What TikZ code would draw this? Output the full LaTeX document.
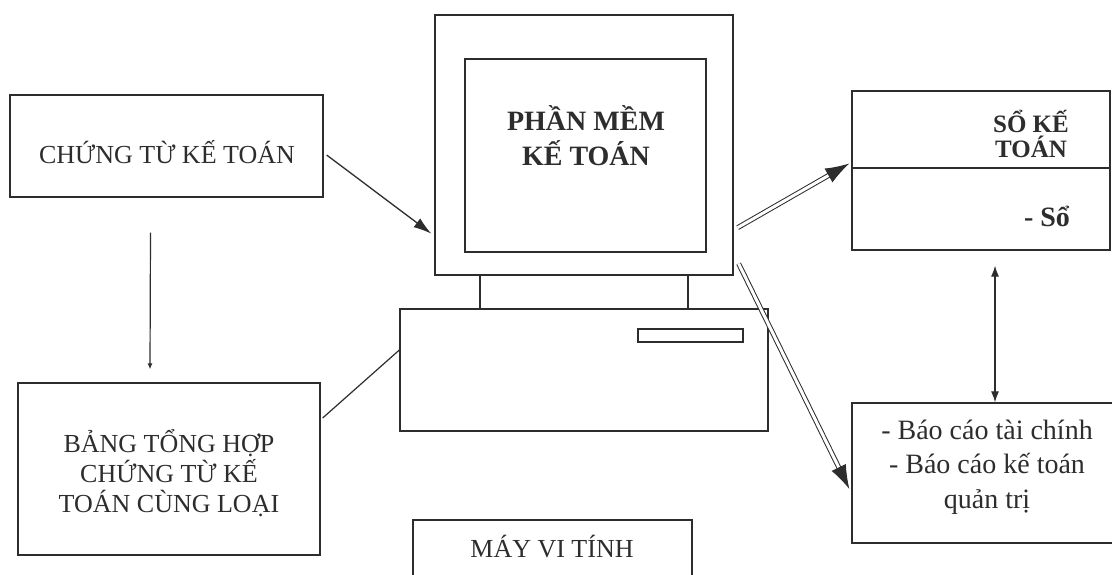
\documentclass[tikz,border=0pt]{standalone}
\usepackage{fontspec}
\setmainfont{Liberation Serif}
\usetikzlibrary{arrows.meta}
\definecolor{ink}{RGB}{45,45,45}

\begin{document}
\begin{tikzpicture}[x=1pt, y=-1pt,
		box/.style={draw=ink, line width=1.3pt, inner sep=0pt},
		txt/.style={text=ink, align=center, inner sep=0pt, font=\fontsize{26}{30}\selectfont},
		big/.style={text=ink, align=center, inner sep=0pt, font=\fontsize{28}{34.5}\selectfont},
		muiten/.style={draw=ink, line width=1.3pt, -{Latex[length=18pt, width=11pt]}},
		kep/.style={draw=ink, line width=1pt, double=white, double distance=3pt, -{Latex[length=24pt, width=16pt, color=ink, fill=ink]}}]
				\clip (0, 0) rectangle (1112, 575);
				\fill[white] (0, 0) rectangle (1112, 575);

				% 枠を描く
				\node[box, minimum width=313pt, minimum height=102pt] (ctu) at (166.5, 146) {};
				\node[box, minimum width=302pt, minimum height=172pt] (bang) at (169, 469) {};
				\node[box, minimum width=298pt, minimum height=260pt] (mon) at (584, 145) {};
				\node[box, minimum width=241pt, minimum height=193pt] (screen) at (585.5, 155.5) {};
				\node[box, minimum width=368pt, minimum height=122pt] (thung) at (584, 370) {};
				\node[box, minimum width=105pt, minimum height=13pt] (khe) at (690.5, 335.5) {};
				\node[box, minimum width=279pt, minimum height=90pt] (may) at (552.5, 565) {};
				\node[box, minimum width=258pt, minimum height=159pt] (so) at (981, 170.5) {};
				\node[box, minimum width=286pt, minimum height=140pt] (bc) at (995, 473) {};
				\coordinate (vach) at (852, 168);
				\draw[draw=ink, line width=1.3pt] (vach) -- (vach -| so.east);

				% 画面の足
				\draw[draw=ink, line width=1.3pt] (mon.south -| 480, 0) -- (thung.north -| 480, 0);
				\draw[draw=ink, line width=1.3pt] (mon.south -| 688, 0) -- (thung.north -| 688, 0);

				% 矢印
				\draw[muiten] ([xshift=3pt, yshift=-9pt]ctu.east) -- ([xshift=-3pt, yshift=42pt]mon.south west);
				\draw[draw=ink, line width=1.2pt, -{Latex[length=6pt, width=5pt]}] ([xshift=-16pt, yshift=-35pt]ctu.south) -- ([xshift=-19pt, yshift=13pt]bang.north);
				\draw[draw=ink, line width=1.2pt] ([xshift=2pt, yshift=51pt]bang.east) -- ([yshift=20pt]thung.west);
				\draw[kep] ([xshift=4pt, yshift=48pt]mon.south east) -- ([xshift=-2pt, yshift=7pt]so.west);
				\draw[kep] ([xshift=5pt, yshift=12pt]mon.south east) -- ([xshift=-2pt, yshift=-16pt]bc.west);
				\draw[draw=ink, line width=1.2pt, {Latex[length=11pt, width=8pt]}-{Latex[length=11pt, width=8pt]}] ([xshift=14pt, yshift=-15pt]so.south) -- (bc.north);

				% 文字を入れる
				\node[txt] (t1) at (167, 152) {CHỨNG TỪ KẾ TOÁN};
				\node[txt] (t2) at (169, 473) {BẢNG TỔNG HỢP\\CHỨNG TỪ KẾ\\TOÁN CÙNG LOẠI};
				\node[big, font=\bfseries\fontsize{28}{35}\selectfont] (t3) at (586, 136) {PHẦN MỀM\\KẾ TOÁN};
				\node[txt] (t4) at (552, 547) {MÁY VI TÍNH};
				\node[txt, font=\bfseries\fontsize{25}{25}\selectfont] (t5) at (1031, 134) {SỔ KẾ\\TOÁN};
				\node[big, font=\bfseries\fontsize{28}{34}\selectfont] (t6) at (1047, 216) {- Sổ};
				\node[big] (t7) at (987, 467) {- Báo cáo tài chính\\- Báo cáo kế toán\\quản trị};
			\end{tikzpicture}
\end{document}
